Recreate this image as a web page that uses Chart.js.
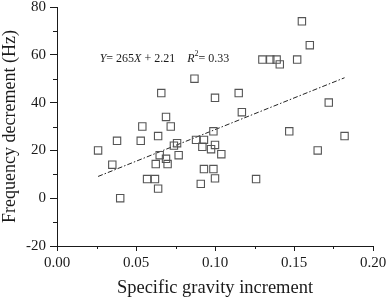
<!DOCTYPE html>
<html><head><meta charset="utf-8">
<script src="https://cdn.jsdelivr.net/npm/chart.js@4"></script>
<style>html,body{margin:0;padding:0;background:#fff}#wrap{width:387px;height:299px}</style>
</head><body><div id="wrap"><canvas id="c"></canvas></div>
<script>
const gravityIncrement = [0.026,0.038,0.035,0.040,0.087,0.066,0.100,0.069,0.054,0.072,0.064,0.053,0.074,0.076,0.077,0.065,0.069,0.0625,0.070,0.057,0.062,0.064,0.088,0.093,0.092,0.0975,0.100,0.104,0.099,0.093,0.099,0.091,0.100,0.126,0.117,0.115,0.172,0.147,0.182,0.165,0.155,0.160,0.130,0.135,0.139,0.141,0.152];
const freqDecrement   = [20,24,14,0,50,44,42,34,30,30,26,24,22,23,18,18,16.5,14.3,14.3,8,8,4,24.4,24.4,21.5,20.5,22.3,18.4,28,12.2,12.2,6,8.3,8,36,44,40,28,26,20,74,64,58,58,58,56,58];
const fitX = [0.026, 0.182];
const fitY = [9.1, 50.4];
const xTicks = [0, 0.05, 0.10, 0.15, 0.20];
const yTicks = [-20, 0, 20, 40, 60, 80];
const xMinor = [0.025, 0.075, 0.125, 0.175];
const yMinor = [-10, 10, 30, 50, 70];
const eqText = [['Y','i'],['= 265',''],['X','i'],[' + 2.21    ',''],['R','i'],['2','s'],['= 0.33','']];

const FONT = 'Liberation Serif';
const INK = '#1a1a1a';

const minorTicks = {
  id: 'minorTicks',
  afterDraw(chart) {
    const ctx = chart.ctx, xs = chart.scales.x, ys = chart.scales.y;
    ctx.save();
    ctx.strokeStyle = INK; ctx.lineWidth = 1;
    ctx.beginPath();
    xMinor.forEach(v => { const p = Math.round(xs.getPixelForValue(v)) + 0.5; ctx.moveTo(p, ys.bottom); ctx.lineTo(p, ys.bottom + 3); });
    yMinor.forEach(v => { const p = Math.round(ys.getPixelForValue(v)) + 0.5; ctx.moveTo(xs.left, p); ctx.lineTo(xs.left - 4, p); });
    ctx.stroke();
    let x = xs.getPixelForValue(0.027), y = ys.getPixelForValue(58.2);
    ctx.fillStyle = INK; ctx.textBaseline = 'middle'; ctx.textAlign = 'left';
    eqText.forEach(([t, s]) => {
      if (s === 's') { ctx.font = `8px "${FONT}"`; ctx.fillText(t, x, y - 5); x += ctx.measureText(t).width; }
      else { ctx.font = (s === 'i' ? 'italic ' : '') + `12px "${FONT}"`; ctx.fillText(t, x, y); x += ctx.measureText(t).width; }
    });
    ctx.restore();
  }
};

new Chart(document.getElementById('c'), {
  type: 'scatter',
  data: {
    datasets: [{
      data: gravityIncrement.map((v, i) => ({x: v, y: freqDecrement[i]})),
      pointStyle: 'rect', pointRadius: 5.2, pointBorderColor: '#555', pointBackgroundColor: 'rgba(0,0,0,0)', pointBorderWidth: 1.1
    }, {
      type: 'line',
      data: fitX.map((v, i) => ({x: v, y: fitY[i]})),
      borderColor: '#222', borderWidth: 1, borderDash: [5, 2, 1.5, 2], pointRadius: 0, fill: false
    }]
  },
  options: {
    responsive: true, maintainAspectRatio: false, animation: false,
    layout: {padding: {top: 7, right: 14, left: 0, bottom: 0}},
    plugins: {legend: {display: false}, tooltip: {enabled: false}},
    scales: {
      x: {
        type: 'linear', min: 0, max: 0.2,
        afterBuildTicks: s => { s.ticks = xTicks.map(v => ({value: v})); },
        afterFit: s => { s.height = 53; s.paddingLeft = 0; s.paddingRight = 0; },
        ticks: {callback: v => v.toFixed(2), color: INK, font: {family: FONT, size: 15}, padding: 3, maxRotation: 0},
        grid: {drawOnChartArea: false, tickLength: 5, tickColor: INK},
        border: {color: INK, width: 1},
        title: {display: true, text: 'Specific gravity increment', color: INK, font: {family: FONT, size: 18.5}, padding: {top: 0, bottom: 0}}
      },
      y: {
        type: 'linear', min: -20, max: 80,
        afterBuildTicks: s => { s.ticks = yTicks.map(v => ({value: v})); },
        afterFit: s => { s.width = 57; s.paddingTop = 0; s.paddingBottom = 0; },
        ticks: {color: INK, font: {family: FONT, size: 15}, padding: 4},
        grid: {drawOnChartArea: false, tickLength: 7, tickColor: INK},
        border: {color: INK, width: 1},
        title: {display: true, text: 'Frequency decrement (Hz)', color: INK, font: {family: FONT, size: 18}, padding: {top: -1, bottom: 0}}
      }
    }
  },
  plugins: [minorTicks]
});
</script></body></html>
